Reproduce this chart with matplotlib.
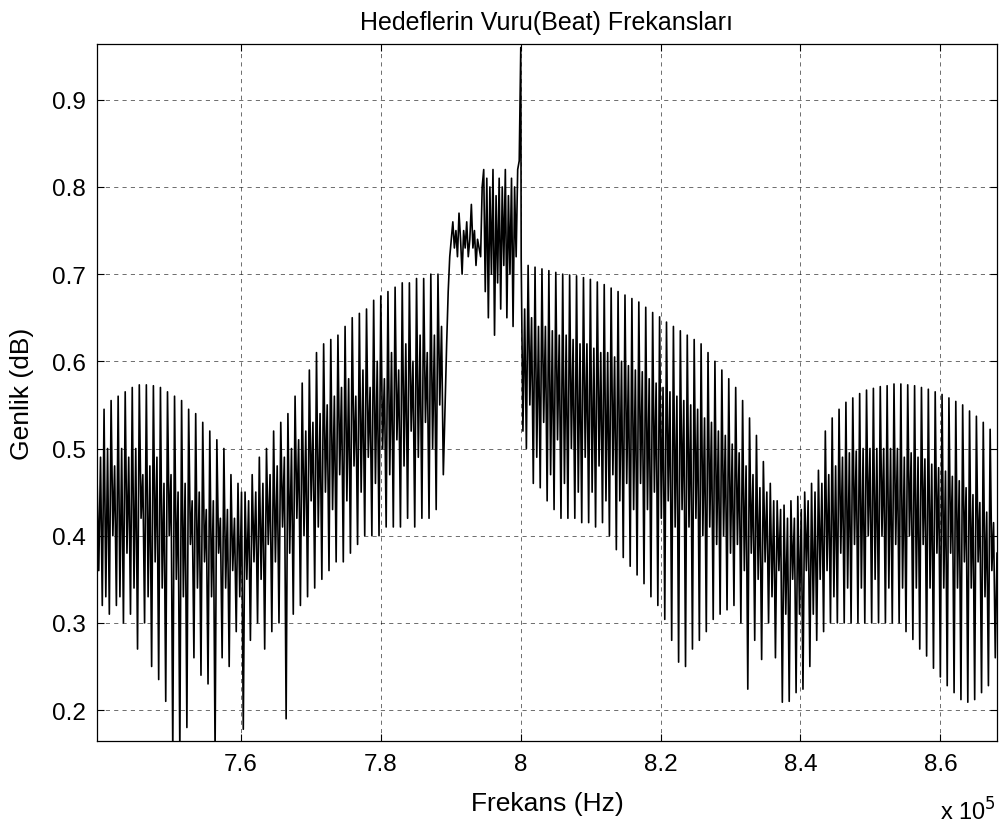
import numpy as np
import matplotlib
matplotlib.use("Agg")
import matplotlib.pyplot as plt

# ---- data (amplitude values, per frequency segment) ----
seg_bounds = [7.394e5, 7.6057e5, 7.8918e5, 8.0e5, 8.0006e5, 8.3568e5, 8.4355e5, 8.681e5]

seg_left = [
    .47, .36, .49, .32,  .545, .33, .50, .31,  .555, .40, .48, .32,  .56, .33, .50, .30,
    .565, .38, .49, .31, .57, .34, .50, .27,   .573, .42, .47, .30,  .573, .33, .48, .25,
    .572, .37, .49, .235, .57, .34, .46, .21,  .565, .40, .47, .15,  .56, .35, .45, .15,
    .555, .33, .46, .18, .545, .39, .44, .26,  .54, .34, .45, .24,   .53, .37, .43, .23,
    .52, .33, .44, .15,  .51, .38, .42, .26,   .50, .34, .43, .25,   .47, .36, .42, .29,
    .46, .33, .45, .178]

seg_rise = [
    .45, .35, .44, .28,  .47, .37, .45, .30,  .49, .35, .46, .27,  .50, .39, .47, .29,
    .52, .37, .48, .30,  .53, .41, .49, .19,  .54, .38, .50, .31,  .56, .42, .51, .32,
    .575, .40, .52, .33, .59, .44, .53, .34,  .61, .41, .54, .35,  .62, .45, .55, .36,
    .625, .43, .56, .37, .63, .47, .57, .37,  .64, .44, .58, .38,  .65, .48, .56, .39,
    .655, .45, .59, .40, .66, .49, .57, .40,  .67, .46, .60, .40,  .675, .50, .58, .41,
    .68, .47, .61, .41,  .685, .51, .59, .41, .69, .48, .62, .42,  .69, .52, .60, .41,
    .695, .49, .63, .42, .695, .53, .61, .42, .70, .50, .63, .43,  .70, .55, .64, .47]

seg_plateau = [
    .55, .62, .68, .72, .74,
    .76, .73, .75, .72, .77, .74, .70, .75, .73, .76, .72, .74, .78, .73, .75, .71, .74, .73,
    .72, .80,
    .82, .68, .81, .65, .80, .70, .82, .63, .79, .69, .81, .66, .80, .71, .82, .65, .79, .70,
    .81, .64, .80, .72, .82, .83]

seg_peak = [0.96]

seg_fall = [
    .717, .52, .66, .50,  .71, .55, .65, .46,  .708, .49, .64, .455, .706, .53, .64, .44,
    .704, .47, .635, .43, .702, .51, .63, .42, .70, .46, .63, .42,   .699, .50, .625, .42,
    .698, .45, .62, .415, .696, .49, .62, .415, .694, .45, .615, .41, .691, .48, .61, .415,
    .688, .44, .61, .40,  .684, .47, .605, .384, .68, .44, .60, .375, .676, .46, .595, .365,
    .672, .43, .59, .355, .668, .46, .588, .345, .662, .43, .58, .33, .656, .45, .575, .32,
    .651, .42, .57, .304, .645, .44, .565, .28, .64, .41, .56, .255,  .635, .43, .555, .25,
    .63, .41, .55, .27,   .625, .42, .545, .28, .62, .40, .535, .29,  .61, .41, .53, .304,
    .60, .39, .52, .31,   .59, .40, .515, .315, .58, .38, .505, .32,  .57, .39, .495, .30,
    .555, .36, .48, .224, .535, .38, .47, .28,  .515, .35, .455, .258, .485, .37, .45, .30]

seg_trough = [
    .46, .33, .44, .26,  .44, .36, .43, .209, .435, .31, .42, .21,  .44, .35, .42, .22,
    .445, .31, .43, .224, .45, .36, .44, .25, .46, .31, .45, .28,  .475, .35, .46, .29]

seg_right = [
    .52, .36, .47, .30,  .535, .33, .48, .30,  .545, .38, .49, .30,  .553, .34, .495, .30,
    .558, .39, .497, .30, .563, .34, .50, .30, .567, .40, .50, .30,  .569, .35, .50, .30,
    .571, .40, .50, .30, .572, .34, .50, .30,  .574, .39, .50, .30,  .574, .34, .49, .29,
    .573, .40, .495, .281, .572, .34, .49, .27, .57, .39, .488, .262, .568, .34, .482, .248,
    .565, .38, .478, .238, .562, .34, .474, .228, .558, .38, .468, .22, .554, .34, .463, .212,
    .55, .37, .455, .209, .543, .34, .447, .212, .537, .37, .438, .22, .53, .33, .427, .228,
    .522, .36, .415, .26, .38]

segments = [seg_left, seg_rise, seg_plateau, seg_peak, seg_fall, seg_trough, seg_right]

xs, ys = [], []
for i, seg in enumerate(segments):
    last = (i == len(segments) - 1)
    xs.append(np.linspace(seg_bounds[i], seg_bounds[i + 1], len(seg), endpoint=last))
    ys.append(np.asarray(seg))
freq = np.concatenate(xs)
amp = np.concatenate(ys)

xticks = [7.6e5, 7.8e5, 8.0e5, 8.2e5, 8.4e5, 8.6e5]
xticklabels = ["7.6", "7.8", "8", "8.2", "8.4", "8.6"]
yticks = [0.2, 0.3, 0.4, 0.5, 0.6, 0.7, 0.8, 0.9]
yticklabels = ["0.2", "0.3", "0.4", "0.5", "0.6", "0.7", "0.8", "0.9"]

# ---- figure ----
fam = ["Liberation Sans", "DejaVu Sans"]

fig = plt.figure(figsize=(10.01, 8.28), dpi=100)
ax = fig.add_axes([97 / 1001, 1 - 742 / 828, 900 / 1001, 697 / 828])

ax.plot(freq, amp, color="black", linewidth=1.2)

ax.set_xlim(7.394e5, 8.681e5)
ax.set_ylim(0.1645, 0.964)

ax.set_xticks(xticks)
ax.set_xticklabels(xticklabels, fontfamily=fam, fontsize=17.5)
ax.set_yticks(yticks)
ax.set_yticklabels(yticklabels, fontfamily=fam, fontsize=17.5)
ax.tick_params(direction="in", length=5, width=0.8, top=True, right=True)
ax.tick_params(axis="x", pad=9)
ax.tick_params(axis="y", pad=8)

ax.grid(True, color="black", linestyle=(0, (6, 6)), linewidth=0.5, alpha=0.8)
for s in ax.spines.values():
    s.set_linewidth(0.9)

ax.set_title("Hedeflerin Vuru(Beat) Frekansları", fontfamily=fam, fontsize=18, pad=11)
ax.set_xlabel("Frekans (Hz)", fontfamily=fam, fontsize=19, labelpad=11)
ax.set_ylabel("Genlik (dB)", fontfamily=fam, fontsize=19, labelpad=13)
fig.text(996 / 1001, 1 - 826 / 828, r"x 10$^5$", fontfamily=fam, fontsize=17,
         ha="right", va="bottom")

fig.savefig("out.png", dpi=100)
